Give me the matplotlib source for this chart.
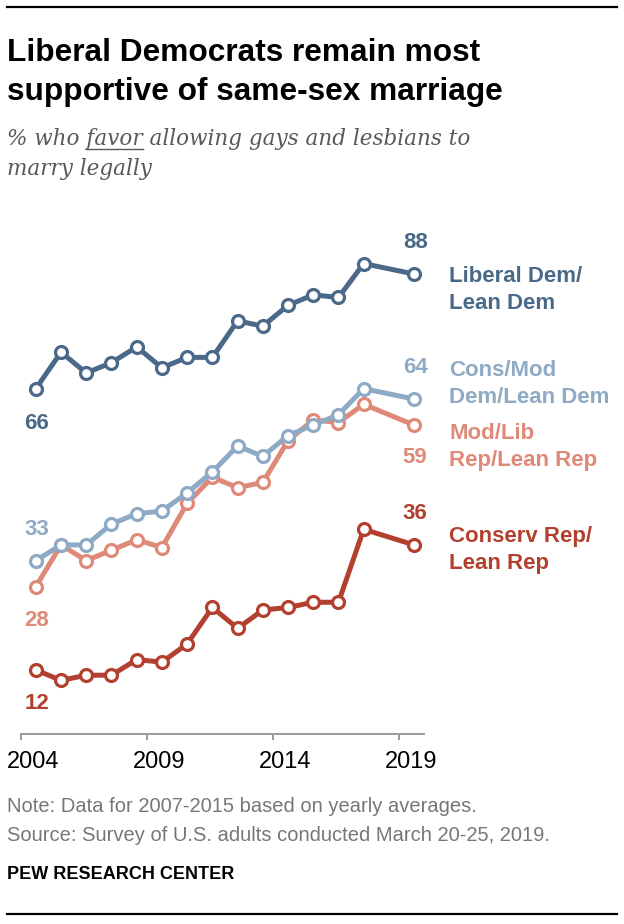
import matplotlib
matplotlib.use("Agg")
import matplotlib.pyplot as plt
from matplotlib.lines import Line2D
import numpy as np

# survey years (2007-2015 are yearly averages)
years = [2004, 2005, 2006, 2007, 2008, 2009, 2010, 2011, 2012, 2013, 2014, 2015, 2016, 2017, 2019]

liberal_dem = [66, 73, 69, 71, 74, 70, 72, 72, 79, 78, 82, 84, 83.5, 90, 88]
consmod_dem = [33, 36, 36, 40, 42, 42.5, 46, 50, 55, 53, 57, 59, 61, 66, 64]
modlib_rep = [28, 36, 33, 35, 37, 35.5, 44, 49, 47, 48, 56, 60, 59.5, 63, 59]
conserv_rep = [12, 10, 11, 11, 14, 13.5, 17, 24, 20, 23.5, 24, 25, 25, 39, 36]

series_names = ["Conserv Rep/\nLean Rep", "Mod/Lib\nRep/Lean Rep",
                "Cons/Mod\nDem/Lean Dem", "Liberal Dem/\nLean Dem"]
series_values = [conserv_rep, modlib_rep, consmod_dem, liberal_dem]
series_colors = ["#b3402e", "#df8a79", "#8eaac5", "#4a6988"]

tick_years = [2004, 2009, 2014, 2019]

W, H = 624, 924
fig = plt.figure(figsize=(W / 100, H / 100), dpi=100)
ax = fig.add_axes([0, 0, 1, 1])

# map canvas pixels to data: 2004 tick at px 20.7, 25.22 px per year
px_per_year = 25.22
px_per_pct = 5.21
x0_px = 20.7
ax.set_xlim(2004 - x0_px / px_per_year, 2004 + (W - x0_px) / px_per_year)
ax.set_ylim((732.5 - H) / px_per_pct, 732.5 / px_per_pct)

x = np.array(years) + 0.6  # points sit inside their year

# label offsets (pixels) for start / end values and the series names
start_dy = [-39, -39, 26, -40]
end_dy = [26, -38, 26, 26]
name_dy = [3, -14, 23, -8]

for name, vals, col, sdy, edy, ndy in zip(series_names, series_values, series_colors,
                                          start_dy, end_dy, name_dy):
    ax.plot(x, vals, color=col, lw=3.6, marker="o", ms=8.6, mew=2.3,
            mfc="white", mec=col, solid_joinstyle="round", zorder=3)
    ax.annotate(f"{vals[0]:.0f}", (x[0], vals[0]), xytext=(1, sdy),
                textcoords="offset pixels", ha="center", va="baseline",
                fontsize=16, fontweight="bold", color=col, family="Liberation Sans")
    ax.annotate(f"{vals[-1]:.0f}", (x[-1], vals[-1]), xytext=(1, edy),
                textcoords="offset pixels", ha="center", va="baseline",
                fontsize=16, fontweight="bold", color=col, family="Liberation Sans")
    for i, line in enumerate(name.split("\n")):
        ax.annotate(line, (x[-1], vals[-1]), xytext=(35, ndy - 27 * i),
                    textcoords="offset pixels", ha="left", va="baseline",
                    fontsize=16, fontweight="bold", color=col, family="Liberation Sans")

for s in ["top", "left", "right"]:
    ax.spines[s].set_visible(False)
ax.spines["bottom"].set_position(("data", -0.3))
ax.spines["bottom"].set_bounds(2004, 2020)
ax.spines["bottom"].set_color("#9a9a9a")
ax.spines["bottom"].set_linewidth(1.4)
# tick marks at year starts, labels centred on the year
ax.set_xticks(tick_years)
ax.set_xticklabels([])
ax.set_xticks([t + 0.5 for t in tick_years], minor=True)
ax.set_xticklabels([str(t) for t in tick_years], minor=True, fontsize=17,
                   family="Liberation Sans")
ax.tick_params(axis="x", which="major", direction="out", length=4, width=1.4, color="#9a9a9a")
ax.tick_params(axis="x", which="minor", length=0, pad=12)
ax.set_yticks([])


def fy(py):
    return 1 - py / H


# header
fig.text(7 / W, fy(61), "Liberal Democrats remain most", fontsize=22.8, fontweight="bold",
         family="Liberation Sans", va="baseline")
fig.text(7 / W, fy(100), "supportive of same-sex marriage", fontsize=22.8, fontweight="bold",
         family="Liberation Sans", va="baseline")

sub_kw = dict(fontsize=15.5, style="italic", family="DejaVu Serif", color="#595959", va="baseline")
fig.text(7 / W, fy(145), "% who favor allowing gays and lesbians to", **sub_kw)
fig.text(7 / W, fy(175), "marry legally", **sub_kw)

# underline "favor"
fig.canvas.draw()
rend = fig.canvas.get_renderer()


def width_of(s, **kw):
    t = fig.text(0, 0, s, **kw)
    w = t.get_window_extent(rend).width
    t.remove()
    return w


end_px = 7 + width_of("% who favor", **sub_kw)
start_px = end_px - width_of("favor", **sub_kw)
fig.add_artist(Line2D([start_px / W, end_px / W], [fy(149), fy(149)],
                      transform=fig.transFigure, color="#595959", lw=1.0))

# rules
fig.add_artist(Line2D([7 / W, 617 / W], [fy(7), fy(7)], transform=fig.transFigure,
                      color="black", lw=1.6))
fig.add_artist(Line2D([7 / W, 617 / W], [fy(914), fy(914)], transform=fig.transFigure,
                      color="black", lw=1.6))

# footer
foot_kw = dict(fontsize=14.5, family="Liberation Sans", color="#777777", va="baseline")
fig.text(7 / W, fy(812), "Note: Data for 2007-2015 based on yearly averages.", **foot_kw)
fig.text(7 / W, fy(841), "Source: Survey of U.S. adults conducted March 20-25, 2019.", **foot_kw)
fig.text(7 / W, fy(879), "PEW RESEARCH CENTER", fontsize=13, fontweight="bold",
         family="Liberation Sans", color="black", va="baseline")

fig.savefig("out.png", dpi=100)
